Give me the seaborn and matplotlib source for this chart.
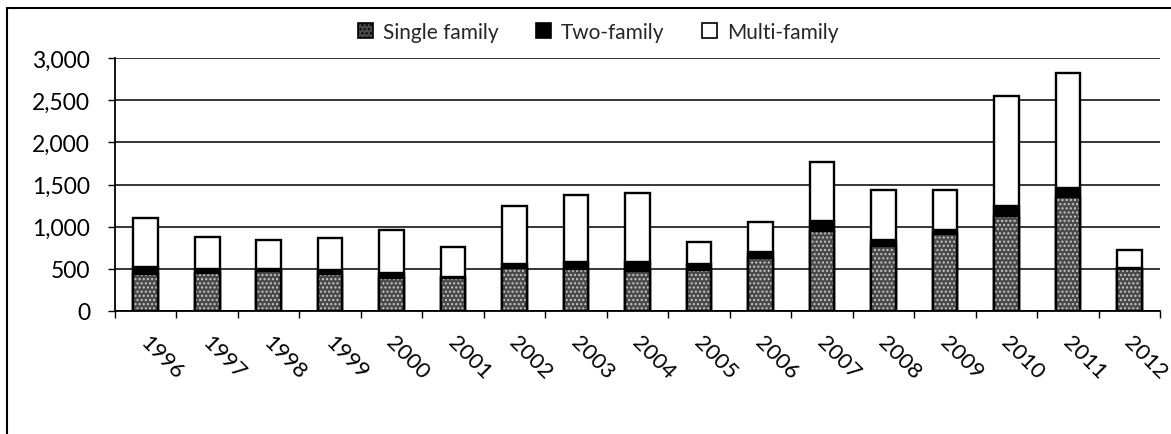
import matplotlib
matplotlib.use("Agg")
import matplotlib.pyplot as plt
from matplotlib.patches import Rectangle, Patch
from matplotlib.ticker import FuncFormatter, FixedLocator
from matplotlib.transforms import ScaledTranslation
import numpy as np
import pandas as pd
import seaborn as sns

# Housing units permitted by structure type
years = ["1996", "1997", "1998", "1999", "2000", "2001", "2002", "2003", "2004",
         "2005", "2006", "2007", "2008", "2009", "2010", "2011", "2012"]
single_family = [440, 450, 470, 440, 390, 390, 510, 500, 480,
                 490, 630, 950, 765, 910, 1130, 1350, 500]
two_family = [80, 45, 30, 50, 55, 15, 45, 85, 100,
              65, 65, 115, 80, 50, 110, 105, 10]
multi_family = [580, 385, 340, 375, 515, 350, 685, 785, 825,
                260, 365, 705, 595, 475, 1310, 1370, 210]
y_ticks = [0, 500, 1000, 1500, 2000, 2500, 3000]

df = pd.DataFrame({"year": years, "single": single_family,
                   "two": two_family, "multi": multi_family})
df["single_two"] = df["single"] + df["two"]
df["total"] = df["single_two"] + df["multi"]

sns.set_theme(style="white")
plt.rcParams["font.family"] = ["Lato", "DejaVu Sans"]
plt.rcParams["hatch.linewidth"] = 1.0

fig = plt.figure(figsize=(11.71, 4.35), dpi=100)
ax = fig.add_axes([115 / 1171, 1 - 312 / 435, (1160 - 115) / 1171, (312 - 59) / 435])

bar_w = 0.4
single_color = "#4a4a4a"
# stacked bars drawn back to front: total, single+two, single
sns.barplot(data=df, x="year", y="total", order=years, ax=ax, width=bar_w,
            color="white", edgecolor="black", linewidth=1.7, saturation=1, zorder=3)
sns.barplot(data=df, x="year", y="single_two", order=years, ax=ax, width=bar_w,
            color="black", edgecolor="black", linewidth=1.7, saturation=1, zorder=4)
sns.barplot(data=df, x="year", y="single", order=years, ax=ax, width=bar_w,
            color=single_color, edgecolor="#c8c8c8", hatch="....", linewidth=0,
            saturation=1, zorder=5)
sns.barplot(data=df, x="year", y="single", order=years, ax=ax, width=bar_w,
            fill=False, edgecolor="black", linewidth=1.7, zorder=6)

ax.set_xlim(-0.5, len(years) - 0.5)
ax.set_ylim(0, 3000)
ax.set_yticks(y_ticks)
ax.yaxis.set_major_formatter(FuncFormatter(lambda v, p: f"{int(v):,}"))
ax.grid(axis="y", color="black", linewidth=1.1, zorder=0)
ax.grid(axis="x", visible=False)
ax.set_xlabel("")
ax.set_ylabel("")

for s in ["top", "right"]:
    ax.spines[s].set_visible(False)
for s in ["left", "bottom"]:
    ax.spines[s].set_color("black")
    ax.spines[s].set_linewidth(1.3)

ax.tick_params(axis="y", which="major", left=True, length=5, width=1, color="black",
               labelsize=16.5, labelcolor="black", pad=13)
ax.xaxis.set_minor_locator(FixedLocator(np.arange(-0.5, len(years), 1.0)))
ax.tick_params(axis="x", which="minor", bottom=True, length=5, width=1, color="black")
ax.tick_params(axis="x", which="major", bottom=True, length=0, labelsize=16,
               labelcolor="black", pad=15)
shift = ScaledTranslation(-9 / 100, 0, fig.dpi_scale_trans)
for lab in ax.get_xticklabels():
    lab.set_rotation(-45)
    lab.set_ha("left")
    lab.set_va("top")
    lab.set_transform(lab.get_transform() + shift)

handles = [
    Patch(facecolor=single_color, edgecolor="black", hatch="....", linewidth=1.2, label="Single family"),
    Patch(facecolor="black", edgecolor="black", linewidth=1.2, label="Two-family"),
    Patch(facecolor="white", edgecolor="black", linewidth=1.2, label="Multi-family"),
]
fig.legend(handles=handles, loc="center", bbox_to_anchor=(598 / 1171, 1 - 33 / 435),
           ncol=3, frameon=False, fontsize=15, handlelength=0.75, handleheight=0.75,
           handletextpad=0.45, columnspacing=1.8)

# outer chart frame
fig.patches.append(Rectangle((7 / 1171, -0.2), 1.2, 1.2 - 9 / 435, transform=fig.transFigure,
                             fill=False, edgecolor="black", linewidth=1.5))

fig.savefig("out.png", dpi=100)
